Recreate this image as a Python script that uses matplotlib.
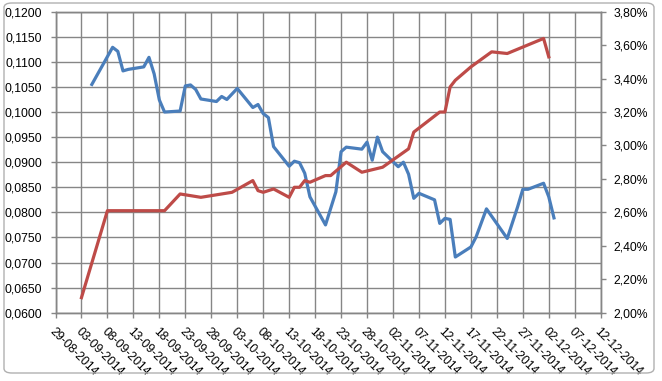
import numpy as np
import pandas as pd
import matplotlib
matplotlib.use("Agg")
import matplotlib.pyplot as plt
import matplotlib.dates as mdates
from matplotlib.ticker import FuncFormatter, MultipleLocator
from matplotlib.patches import FancyBboxPatch

# blue series (left axis)
blue_dates = ["2014-09-05", "2014-09-09", "2014-09-10", "2014-09-11", "2014-09-12",
              "2014-09-15", "2014-09-16", "2014-09-17", "2014-09-18", "2014-09-19",
              "2014-09-22", "2014-09-23", "2014-09-24", "2014-09-25", "2014-09-26",
              "2014-09-29", "2014-09-30", "2014-10-01", "2014-10-03", "2014-10-06",
              "2014-10-07", "2014-10-08", "2014-10-09", "2014-10-10", "2014-10-13",
              "2014-10-14", "2014-10-15", "2014-10-16", "2014-10-17", "2014-10-20",
              "2014-10-22", "2014-10-23", "2014-10-24", "2014-10-27", "2014-10-28",
              "2014-10-29", "2014-10-30", "2014-10-31", "2014-11-03", "2014-11-04",
              "2014-11-05", "2014-11-06", "2014-11-07", "2014-11-10", "2014-11-11",
              "2014-11-12", "2014-11-13", "2014-11-14", "2014-11-17", "2014-11-18",
              "2014-11-20", "2014-11-24", "2014-11-26", "2014-11-27", "2014-11-28",
              "2014-12-01", "2014-12-02", "2014-12-03"]
blue_vals = [0.1055, 0.1129, 0.1121, 0.1082, 0.1085,
             0.1090, 0.1109, 0.1076, 0.1024, 0.1000,
             0.1002, 0.1052, 0.1054, 0.1045, 0.1026,
             0.1021, 0.1031, 0.1025, 0.1047, 0.1009,
             0.1015, 0.0997, 0.0989, 0.0931, 0.0892,
             0.0902, 0.0899, 0.0878, 0.0831, 0.0775,
             0.0841, 0.0921, 0.0930, 0.0926, 0.0940,
             0.0904, 0.0950, 0.0921, 0.0891, 0.0900,
             0.0876, 0.0828, 0.0838, 0.0825, 0.0778,
             0.0788, 0.0786, 0.0711, 0.0731, 0.0751,
             0.0807, 0.0748, 0.0811, 0.0846, 0.0846,
             0.0858, 0.0831, 0.0789]

# red series (right axis, %)
red_dates = ["2014-09-03", "2014-09-08", "2014-09-19", "2014-09-22", "2014-09-26",
             "2014-10-02", "2014-10-06", "2014-10-07", "2014-10-08", "2014-10-10",
             "2014-10-13", "2014-10-14", "2014-10-15", "2014-10-16", "2014-10-17",
             "2014-10-20", "2014-10-21", "2014-10-24", "2014-10-27", "2014-10-31",
             "2014-11-05", "2014-11-06", "2014-11-11", "2014-11-12", "2014-11-13",
             "2014-11-14", "2014-11-17", "2014-11-21", "2014-11-24", "2014-12-01",
             "2014-12-02"]
red_vals = [2.09, 2.61, 2.61, 2.71, 2.69,
            2.72, 2.79, 2.73, 2.72, 2.74,
            2.69, 2.75, 2.75, 2.79, 2.78,
            2.82, 2.82, 2.90, 2.84, 2.87,
            2.98, 3.08, 3.20, 3.20, 3.35,
            3.39, 3.47, 3.56, 3.55, 3.64,
            3.53]

grid_col = "#868686"
font = "Liberation Sans"
fs = 8.7

fig = plt.figure(figsize=(6.62, 3.81), dpi=100)
ax = fig.add_axes([55.5 / 662, 1 - 312.7 / 381, (600.7 - 55.5) / 662, (312.7 - 11.7) / 381])
ax2 = ax.twinx()

ax.plot(pd.to_datetime(blue_dates), blue_vals, color="#4A7EBB", lw=2.3, solid_joinstyle="round")
ax2.plot(pd.to_datetime(red_dates), red_vals, color="#BE4B48", lw=2.3, solid_joinstyle="round")

start = pd.Timestamp("2014-08-29")
end = pd.Timestamp("2014-12-12")
ax.set_xlim(start, end)
ax.set_ylim(0.06, 0.12)
ax2.set_ylim(2.0, 3.8)

xt = pd.date_range(start, end, freq="5D")
ax.set_xticks(xt)
ax.xaxis.set_major_formatter(mdates.DateFormatter("%d-%m-%Y"))
ax.yaxis.set_major_locator(MultipleLocator(0.005))
ax.yaxis.set_major_formatter(FuncFormatter(lambda v, p: ("%.4f" % v).replace(".", ",")))
ax2.yaxis.set_major_locator(MultipleLocator(0.2))
ax2.yaxis.set_major_formatter(FuncFormatter(lambda v, p: ("%.2f%%" % v).replace(".", ",")))

ax.grid(True, color=grid_col, lw=1)
ax.set_axisbelow(True)
for a in (ax, ax2):
    for s in a.spines.values():
        s.set_color(grid_col)
        s.set_linewidth(1)
    a.tick_params(colors=grid_col, length=3.5, width=1, pad=6, labelcolor="black", labelsize=fs)
    for lab in a.get_xticklabels() + a.get_yticklabels():
        lab.set_fontfamily(font)

for lab in ax.get_xticklabels():
    lab.set_rotation(-45)
    lab.set_ha("left")
    lab.set_va("top")
    lab.set_rotation_mode("anchor")

fig.patches.append(FancyBboxPatch((4 / 662, 8 / 381), 650 / 662, 370 / 381,
                                  boxstyle="round,pad=0,rounding_size=0.012",
                                  transform=fig.transFigure, fill=False,
                                  ec="#B0B0B0", lw=1))

fig.savefig("out.png", dpi=100)
